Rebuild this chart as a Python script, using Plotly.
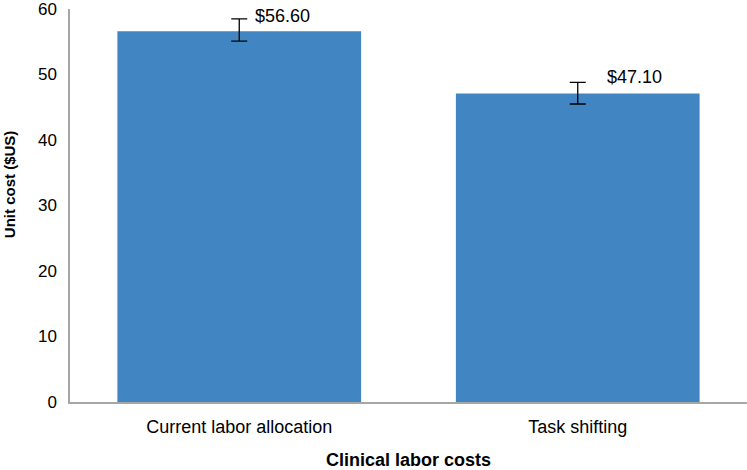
import plotly.graph_objects as go

categories = ["Current labor allocation", "Task shifting"]
unit_cost = [56.6, 47.1]
err_plus = [1.9, 1.7]
err_minus = [1.5, 1.6]
value_labels = ["$56.60", "$47.10"]
y_ticks = [0, 10, 20, 30, 40, 50, 60]

label_xshift = [43, 57]
label_yshift = [3, 5]

fig = go.Figure()
fig.add_trace(go.Bar(
    x=categories, y=unit_cost,
    marker=dict(color="#4185c3", line=dict(width=0)),
    error_y=dict(type="data", symmetric=False, array=err_plus, arrayminus=err_minus,
                 color="black", thickness=1.3, width=8),
    showlegend=False,
))

for i, (c, v, p, t) in enumerate(zip(categories, unit_cost, err_plus, value_labels)):
    fig.add_annotation(x=c, y=v + p, text=t, showarrow=False,
                       xanchor="center", yanchor="middle",
                       xshift=label_xshift[i], yshift=label_yshift[i],
                       font=dict(size=18, color="black"))

# y-axis title (placed as annotation to match reference position)
fig.add_annotation(xref="paper", yref="paper", x=0, y=0.553, xshift=-60.5,
                   text="<b>Unit cost ($US)</b>", textangle=-90, showarrow=False,
                   xanchor="center", yanchor="middle",
                   font=dict(size=15, color="black"))

font_family = "Liberation Sans, Arial, sans-serif"
fig.update_layout(
    width=747, height=470,
    margin=dict(l=70, r=0, t=9, b=68),
    paper_bgcolor="white", plot_bgcolor="white",
    bargap=0.28,
    font=dict(family=font_family, color="black"),
    xaxis=dict(
        showline=True, linecolor="#a6a6a6", linewidth=1.5,
        showgrid=False, ticks="", tickfont=dict(size=18),
        ticklabelstandoff=8, automargin=False,
        title=dict(text="<b>Clinical labor costs</b>", font=dict(size=18), standoff=23),
    ),
    yaxis=dict(
        range=[0, 60], tickvals=y_ticks,
        showline=True, linecolor="#a6a6a6", linewidth=1.5,
        showgrid=False, zeroline=False, ticks="", tickfont=dict(size=17),
        ticklabelstandoff=8, automargin=False, ticklabeloverflow="allow",
    ),
)

fig.write_html("out.html", config={"displayModeBar": False},
               post_script="document.body.style.margin='0';document.body.style.overflow='hidden';")
